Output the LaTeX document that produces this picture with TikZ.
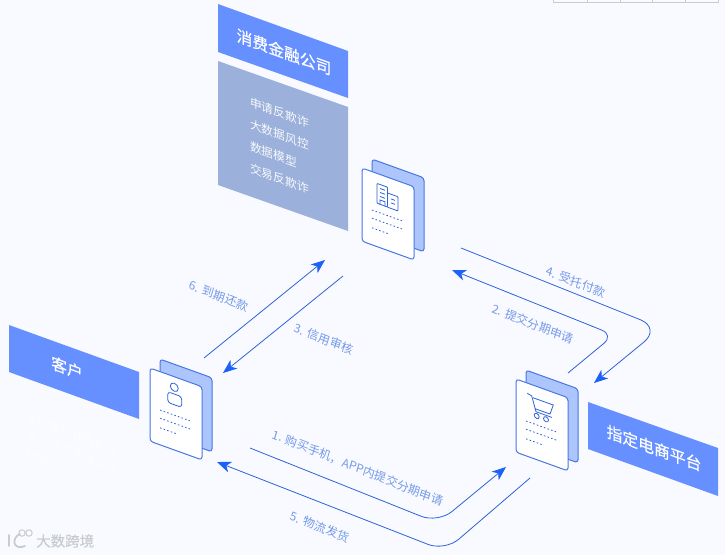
\documentclass[tikz,border=0pt]{standalone}
\usepackage{fontspec}
\setmainfont{Noto Sans CJK SC}
\newfontfamily\headfont[FakeBold=0.3]{Noto Sans CJK SC}
\usetikzlibrary{arrows.meta}
\definecolor{pageBlue}{RGB}{248, 250, 255}
\definecolor{bannerBlue}{RGB}{102, 144, 255}
\definecolor{panelBlue}{RGB}{155, 176, 218}
\definecolor{edgeBlue}{RGB}{72, 118, 228}
\definecolor{backBlue}{RGB}{172, 197, 252}
\definecolor{flowBlue}{RGB}{46, 98, 218}
\definecolor{tipBlue}{RGB}{28, 98, 248}
\definecolor{labelBlue}{RGB}{118, 154, 232}
\definecolor{markGrey}{RGB}{200, 203, 208}
\begin{document}
\begin{tikzpicture}[x=1pt,y=-1pt, every node/.style={inner sep=0pt}]
  \tikzset{
    isoskew/.style={cm={1,-0.36,0,1,(0,0)}},
    banner/.style={fill=bannerBlue},
    bannertxt/.style={font=\headfont\fontsize{15.8}{18}\selectfont, text=white, isoskew},
    paneltxt/.style={font=\fontsize{11.7}{14}\selectfont, text=white!92!panelBlue, anchor=west, isoskew},
    ghosttxt/.style={font=\fontsize{11.5}{14}\selectfont, text=white!70!pageBlue, anchor=west, isoskew},
    steplabel/.style={font=\fontsize{11.3}{14}\selectfont, text=labelBlue, cm={1,-0.4,0.3,1,(0,0)}},
    flow/.style={draw=flowBlue, line width=0.8pt, -{Stealth[length=14pt,width=11pt,inset=4pt,color=tipBlue]}},
    dots/.style={draw=flowBlue, line width=0.8pt, dash pattern=on 1.6pt off 2.2pt},
    icon/.style={draw=flowBlue, line width=0.8pt},
    docard/.pic={
      \draw[fill=backBlue, draw=edgeBlue, line width=1pt, rounded corners=3pt] (10,-12.5) -- (62,-12.5) -- (62,61.5) -- (10,61.5) -- cycle;
      \draw[fill=white, draw=edgeBlue, line width=1pt, rounded corners=3pt] (0,0) -- (52,0) -- (52,73.2) -- (0,73.2) -- cycle;
      \draw[dots] (10,38.4) -- (41,38.4);
      \draw[dots] (10,46.6) -- (41,46.6);
      \draw[dots] (10,56.2) -- (26,56.2);
    }
  }
  \useasboundingbox (0,0) rectangle (725,555);
  \fill[pageBlue] (0,0) rectangle (725,555);

  % scrap of a table at the top edge
  \draw[markGrey, line width=0.8pt] (553,0) -- (553,2) -- (718,2) -- (718,0);
  \foreach \tickx in {587,620,652,685} {
    \draw[markGrey, line width=0.6pt] (\tickx,0) -- (\tickx,2);
  }

  % finance company
  \fill[banner] (218,4) -- (348,51) -- (348,98) -- (218,52) -- cycle;
  \fill[panelBlue] (218,61) -- (348,107) -- (348,231) -- (218,185) -- cycle;
  \node[bannertxt] (fintitle) at (284,52) {消费金融公司};
  \node[paneltxt] (fin1) at (250,102) {申请反欺诈};
  \node[paneltxt] (fin2) at (250,124) {大数据风控};
  \node[paneltxt] (fin3) at (250,146) {数据模型};
  \node[paneltxt] (fin4) at (250,168) {交易反欺诈};

  % customer
  \fill[banner] (9,325) -- (139,372) -- (139,419) -- (9,372) -- cycle;
  \node[bannertxt] (custtitle) at (67,368) {客户};
  \node[ghosttxt] (cust1) at (26,417) {提供客户详情的信};
  \node[ghosttxt] (cust2) at (26,435) {用（经过多维交叉};
  \node[ghosttxt] (cust3) at (26,454) {验证）};

  % merchant
  \fill[banner] (588,402) -- (718,448) -- (718,496) -- (588,449) -- cycle;
  \node[bannertxt] (shoptitle) at (654,448) {指定电商平台};

  % finance card
  \begin{scope}[shift={(362,168)}, isoskew]
    \pic[transform shape] {docard};
    \draw[icon, rounded corners=0.8pt] (25.5,29.8) -- (15,29.8) -- (15,10) -- (25.5,10) -- cycle;
    \draw[icon, rounded corners=0.8pt] (25.5,15.8) -- (36,15.8) -- (36,30) -- (25.5,30);
    \foreach \winy in {14,18,22} {
      \draw[icon] (18,\winy) -- (23,\winy);
    }
    \draw[icon] (18,30) -- (18,25.5) -- (23,25.5) -- (23,30);
    \draw[icon] (29,20.5) -- (33,20.5);
    \draw[icon] (29,24.5) -- (33,24.5);
  \end{scope}

  % customer card
  \begin{scope}[shift={(150,368)}, isoskew]
    \pic[transform shape] {docard};
    \draw[icon] (24.3,10.5) circle (4);
    \draw[icon, rounded corners=3pt] (17.7,17.3) -- (31.7,17.3) -- (31.7,28) -- (17.7,28) -- cycle;
  \end{scope}

  % cart card
  \begin{scope}[shift={(516,379)}, isoskew]
    \pic[transform shape] {docard};
    \draw[icon] (11.3,10.2) -- (15.7,11.3) -- (20,25.5) -- (36,25.5);
    \draw[icon] (17,12.6) -- (37.3,12.6) -- (34,22.8) -- (19,22.8);
    \draw[icon] (20.7,29.5) circle (2.5);
    \draw[icon] (30,29.5) circle (2.5);
  \end{scope}

  % connector ends
  \coordinate (payS) at (204,358);
  \coordinate (payE) at (325,260);
  \coordinate (credS) at (343,276);
  \coordinate (credE) at (223,373);
  \coordinate (entS) at (461,248);
  \coordinate (entC) at (661,328);
  \coordinate (entE) at (594,383);
  \coordinate (subS) at (568,373);
  \coordinate (subC) at (614,335);
  \coordinate (subE) at (452,270);
  \coordinate (buyS) at (250,448);
  \coordinate (buyC) at (438,523);
  \coordinate (buyE) at (506,467);
  \coordinate (shipS) at (530,478);
  \coordinate (shipC) at (445,551);
  \coordinate (shipE) at (217,462);

  \draw[flow] (payS) -- (payE);
  \draw[flow] (credS) -- (credE);
  \draw[flow, rounded corners=22pt] (entS) -- (entC) -- (entE);
  \draw[flow, rounded corners=13pt] (subS) -- (subC) -- (subE);
  \draw[flow, rounded corners=18pt] (buyS) -- (buyC) -- (buyE);
  \draw[flow, rounded corners=18pt] (shipS) -- (shipC) -- (shipE);

  % step labels
  \node[steplabel] (lab6) at (219,296) {6. 到期还款};
  \node[steplabel] (lab3) at (324,339) {3. 信用审核};
  \node[steplabel] (lab4) at (576,282) {4. 受托付款};
  \node[steplabel] (lab2) at (533,324) {2. 提交分期申请};
  \node[steplabel] (lab1) at (358,468) {1. 购买手机，APP内提交分期申请};
  \node[steplabel] (lab5) at (320,527) {5. 物流发货};

  % watermark
  \node[font=\headfont\fontsize{14.5}{16}\selectfont, text=markGrey, anchor=west] (mark) at (36,541) {大数跨境};
  \draw[markGrey, line width=1.8pt, line cap=round] (9,535) -- (9,546);
  \draw[markGrey, line width=1.8pt, line cap=round] (20,534) .. controls (11,538) and (13,551) .. (25,546);
  \draw[markGrey, line width=1pt] (22,533) circle (3.2);
  \draw[markGrey, line width=1pt] (29,533) circle (3.2);
\end{tikzpicture}
\end{document}
